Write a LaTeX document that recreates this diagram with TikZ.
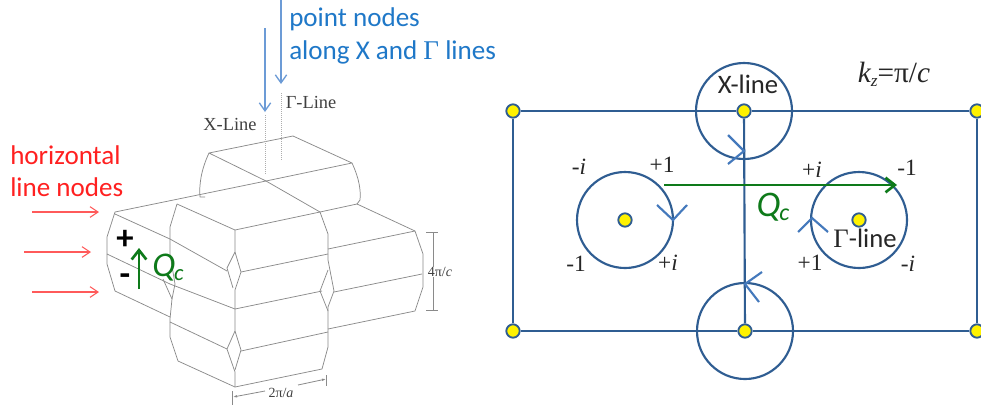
\documentclass[tikz,border=0pt]{standalone}
\usepackage{fontspec}
\setmainfont{Liberation Serif}
\newfontfamily\calfam{Carlito}
\usetikzlibrary{arrows.meta}
\definecolor{navy}{HTML}{2F5D92}
\definecolor{chev}{HTML}{4479BC}
\definecolor{ptblue}{HTML}{1F78C8}
\definecolor{lnblue}{HTML}{6C9BD6}
\definecolor{rd}{HTML}{FF2020}
\definecolor{rdl}{HTML}{FF5A5A}
\definecolor{grn}{HTML}{0E7A1A}
\definecolor{edge}{HTML}{8A8A8A}
\tikzset{
  x=0.75pt,y=-0.75pt,
  edgeline/.style={draw=edge,line width=0.55pt,line join=round},
  dotline/.style={draw=edge!70,line width=0.5pt,densely dotted},
  calltxt/.style={inner sep=0pt,font=\calfam\fontsize{20.3}{24}\selectfont},
  bluelabel/.style={calltxt,text=ptblue,anchor=west},
  redlabel/.style={calltxt,text=rd,anchor=west},
  serif/.style={inner sep=0pt,font=\fontsize{13.8}{16}\selectfont,text=black!75},
  sign/.style={inner sep=0pt,font=\fontsize{17.5}{19}\selectfont,text=black!85},
  bluearrow/.style={draw=lnblue,line width=1pt,-{Straight Barb[length=6pt,width=8.5pt]}},
  redarrow/.style={draw=rdl,line width=0.8pt,-{Straight Barb[length=6pt,width=8pt]}},
  greenarrow/.style={draw=grn,line width=2pt,-{Straight Barb[length=7pt,width=11pt,line width=2pt]}},
  bz/.style={draw=navy,line width=2pt},
  ring/.style={circle,draw=navy,line width=1.6pt,minimum size=72pt,inner sep=0pt},
  ydot/.style={circle,draw=navy,fill=yellow,line width=1.4pt,minimum size=10pt,inner sep=0pt},
  chevron/.style={draw=chev,line width=1.6pt,line join=miter},
  dimline/.style={draw=edge,line width=0.6pt},
}
\begin{document}
\begin{tikzpicture}
\useasboundingbox (0,0) rectangle (981,408);
\fill[white] (0,0) rectangle (981,408);

% ---------- left figure: Brillouin zone stack
\draw[edgeline] (209,153) -- (293,136) -- (352,163) -- (266,181) -- cycle;
\draw[edgeline] (209,153) .. controls (201,170) and (199,185) .. (200,197) -- (205,197);
\draw[edgeline] (352,163) .. controls (359,178) and (361,190) .. (360,200) -- (357,204);
\draw[edgeline] (266,181) -- (115,212);
\draw[edgeline] (266,181) -- (320,212);
\draw[edgeline] (357,204) -- (320,212);
\draw[edgeline] (357,204) -- (415,231);
% left block
\draw[edgeline] (115,212) -- (107,237) -- (107,264) -- (115,291);
\draw[edgeline] (115,214) -- (170,239) -- (227,271);
\draw[edgeline] (107,254) -- (170,284) -- (235,309);
\draw[edgeline] (115,291) -- (170,317);
\draw[edgeline] (170,322) -- (227,349);
% central block
\draw[edgeline] (177,204) -- (170,227) -- (170,254) -- (175,284) -- (172,299) -- (170,319) -- (170,337) -- (178,361) -- (235,387) -- (322,369);
\draw[edgeline] (163,279) -- (172,299);
\draw[edgeline] (177,204) -- (235,230) -- (320,212);
\draw[edgeline] (235,230) -- (235,252) -- (227,268) -- (233,288);
\draw[edgeline] (235,252) -- (241,272) -- (235,290) -- (235,331) -- (227,349) -- (235,372) -- (235,387);
\draw[edgeline] (235,331) -- (241,350) -- (235,370);
\draw[edgeline] (241,272) -- (328,254);
\draw[edgeline] (235,309) -- (322,291);
\draw[edgeline] (241,351) -- (328,332);
% right boundary of central block
\draw[edgeline] (320,212) -- (328,234) -- (328,260) -- (334,291) -- (328,307) -- (328,347) -- (322,369);
\draw[edgeline] (328,270) -- (320,291) -- (328,311);
% right block
\draw[edgeline] (415,231) -- (423,254) -- (423,287) -- (415,311) -- (328,329);
\draw[edgeline] (328,249) -- (415,231);
\draw[edgeline] (334,292) -- (422,274);
% dotted lines
\coordinate (xtop) at (265,115); \coordinate (xbot) at (265,175);
\coordinate (gtop) at (281,93); \coordinate (gbot) at (281,160);
\draw[dotline] (xtop) -- (xbot);
\draw[dotline] (gtop) -- (gbot);

% dimensions
\node[serif,font=\fontsize{10.5}{12}\selectfont] (fourpi) at (440,272) {4π/\textit{c}};
\coordinate (d4t) at (433,232); \coordinate (d4b) at (433,310);
\draw[dimline] (d4t) -- (fourpi.north -| d4t);
\draw[dimline] (fourpi.south -| d4b) -- (d4b);
\draw[dimline] (426,232) -- (438,232);
\draw[dimline] (426,310) -- (438,310);
\node[serif,font=\fontsize{10.5}{12}\selectfont] (twopi) at (281,393) {2π/\textit{a}};
\coordinate (d2l) at (233,397); \coordinate (d2r) at (326,379);
\draw[dimline,{Latex[length=3pt,width=2pt]}-] (d2l) -- (265,391);
\draw[dimline,-{Latex[length=3pt,width=2pt]}] (298,385) -- (d2r);
\draw[dimline] (232,391) -- (232,405);
\draw[dimline] (326,375) -- (326,386);

% left labels
\node[bluelabel] (pn) at (289,19) {point nodes};
\node[bluelabel] (al) at (289,52) {along X and {\rmfamily Γ} lines};
\node[redlabel] (hz) at (10,155) {horizontal};
\node[redlabel] (ln) at (10,187) {line nodes};
\node[serif] (xl) at (230,124) {X-Line};
\node[serif] (gl) at (311,102) {Γ-Line};

\coordinate (a1s) at (265,28);  \coordinate (a1e) at (265,112);
\coordinate (a2s) at (281,0);   \coordinate (a2e) at (281,84);
\draw[bluearrow] (a1s) -- (a1e);
\draw[bluearrow] (a2s) -- (a2e);
\coordinate (r1s) at (32,212); \coordinate (r1e) at (99,212);
\coordinate (r2s) at (24,252); \coordinate (r2e) at (91,252);
\coordinate (r3s) at (32,292); \coordinate (r3e) at (99,292);
\draw[redarrow] (r1s) -- (r1e);
\draw[redarrow] (r2s) -- (r2e);
\draw[redarrow] (r3s) -- (r3e);

\node[inner sep=0pt,font=\calfam\bfseries\fontsize{26}{28}\selectfont] (plus) at (125,240) {+};
\node[inner sep=0pt,font=\calfam\bfseries\fontsize{26}{28}\selectfont] (minus) at (125,280) {-};
\coordinate (qs) at (139,289); \coordinate (qe) at (139,248);
\draw[greenarrow] (qs) -- (qe);
\node[inner sep=0pt,text=grn,font=\calfam\itshape\fontsize{26}{28}\selectfont] (qc1) at (168,268) {\textit{Q}\kern-1pt\raisebox{-3pt}{\fontsize{17}{19}\selectfont\textit{c}}};

% ---------- right figure
\node[ydot] (tl) at (513,111) {};
\node[ydot] (tc) at (744,111) {};
\node[ydot] (tr) at (977,111) {};
\node[ydot] (bl) at (513,331) {};
\node[ydot] (bc) at (745,331) {};
\node[ydot] (br) at (977,331) {};
\draw[bz] (tl) -- (tc);
\draw[bz] (tc) -- (tr);
\draw[bz] (tr) -- (br);
\draw[bz] (br) -- (bc);
\draw[bz] (bc) -- (bl);
\draw[bz] (bl) -- (tl);
\draw[navy,line width=1.6pt] (tc) -- (bc);
\node[ring] (rt) at (744,111) {};
\node[ring] (rb) at (745,331) {};
\node[ring] (rl) at (625,220) {};
\node[ring] (rr) at (859,220) {};
\node[ydot] (cl) at (625,220) {};
\node[ydot] (cr) at (859,220) {};

\coordinate (gs) at (664,185); \coordinate (ge) at (897,185);
\draw[greenarrow] (gs) -- (ge);

\draw[chevron] (728,135) -- (744,151) -- (728,164);
\draw[chevron] (657,205) -- (673,220) -- (687,205);
\draw[chevron] (798,232) -- (812,218) -- (828,232);
\draw[chevron] (762,272) -- (745,284) -- (759,302);

\node[sign] (m1) at (579,167) {-\textit{i}};
\node[sign] (p1) at (662,165) {+1};
\node[sign] (p2) at (812,170) {+\textit{i}};
\node[sign] (m2) at (907,168) {-1};
\node[sign] (m3) at (576,264) {-1};
\node[sign] (p3) at (668,263) {+\textit{i}};
\node[sign] (p4) at (810,263) {+1};
\node[sign] (m4) at (908,264) {-\textit{i}};
\node[inner sep=0pt,text=grn,font=\calfam\fontsize{27}{29}\selectfont] (qc2) at (773,207) {\textit{Q}\kern-1pt\raisebox{-3pt}{\fontsize{18}{20}\selectfont\textit{c}}};
\node[inner sep=0pt,font=\calfam\fontsize{20}{22}\selectfont,text=black!85] (xln) at (748,84) {X-line};
\node[inner sep=0pt,font=\calfam\fontsize{20}{22}\selectfont,text=black!85] (gln) at (865,238) {{\rmfamily Γ}-line};
\node[inner sep=0pt,font=\fontsize{22}{24}\selectfont,text=black!85] (kz) at (894,74) {\textit{k\raisebox{-3pt}{\fontsize{13}{15}\selectfont z}}=π/\textit{c}};
\end{tikzpicture}
\end{document}
